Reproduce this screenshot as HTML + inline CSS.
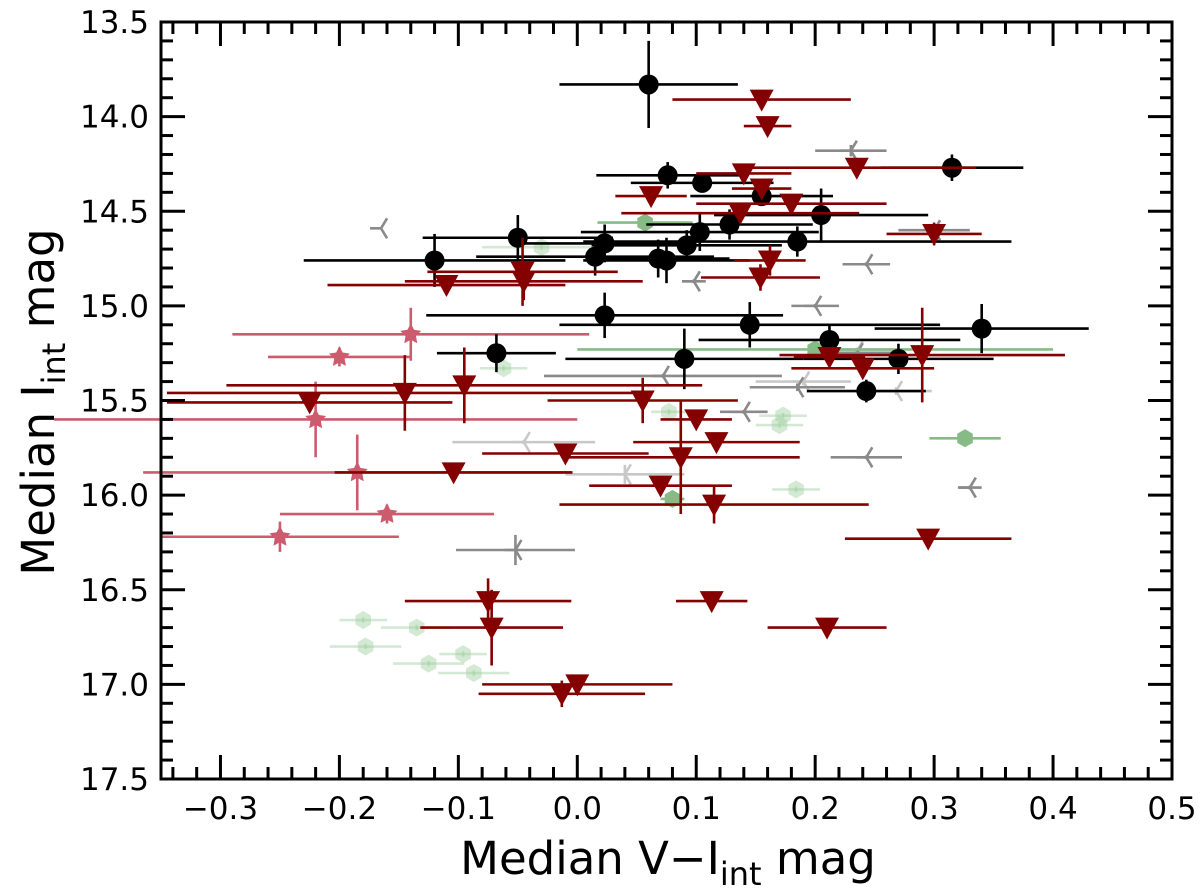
<!DOCTYPE html>
<html><head><meta charset="utf-8"><style>
html,body{margin:0;padding:0;background:#fff;}
svg{display:block;font-family:"DejaVu Sans","Liberation Sans",sans-serif;}
</style></head><body>
<svg id="chart" width="1200" height="888" viewBox="0 0 1200 888" xmlns="http://www.w3.org/2000/svg">
<g id="plot"></g>
<g id="axes"></g>
<text x="668" y="874" font-size="45" text-anchor="middle">Median V−I<tspan font-size="32" dy="11">int</tspan><tspan dy="-11"> mag</tspan></text>
<text transform="translate(54,402) rotate(-90)" font-size="45" text-anchor="middle">Median I<tspan font-size="32" dy="11">int</tspan><tspan dy="-11"> mag</tspan></text>
</svg>
<script>
// x = V-I colour, y = I mag, ex/ey = errors
const blackX=[0.060,0.076,0.105,0.128,0.155,0.205,0.315,-0.120,-0.050,0.023,0.015,0.068,0.075,0.092,0.103,0.185,0.023,-0.068,0.090,0.145,0.212,0.270,0.340,0.243];
const blackY=[13.83,14.31,14.35,14.57,14.42,14.52,14.27,14.76,14.64,14.67,14.74,14.75,14.76,14.68,14.61,14.66,15.05,15.25,15.28,15.10,15.18,15.28,15.12,15.45];
const blackEX=[0.075,0.06,0.06,0.07,0.06,0.09,0.06,0.11,0.08,0.07,0.10,0.06,0.07,0.08,0.10,0.18,0.15,0.05,0.10,0.16,0.11,0.08,0.09,0.05];
const blackEY=[0.23,0.07,0.03,0.08,0.05,0.14,0.07,0.14,0.12,0.10,0.10,0.10,0.12,0.08,0.10,0.08,0.12,0.10,0.16,0.12,0.08,0.08,0.13,0.06];
const redX=[0.155,0.160,0.140,0.062,0.137,0.155,0.180,0.235,0.300,0.162,0.154,-0.110,-0.045,-0.046,0.290,0.240,0.212,0.055,0.100,0.117,0.087,0.115,0.070,-0.010,-0.225,-0.145,-0.095,-0.104,0.295,-0.075,-0.072,0.113,0.210,-0.013,0.000];
const redY=[13.91,14.05,14.30,14.42,14.51,14.38,14.46,14.27,14.62,14.76,14.85,14.89,14.87,14.82,15.26,15.33,15.27,15.50,15.60,15.72,15.80,16.05,15.95,15.78,15.51,15.46,15.42,15.88,16.23,16.56,16.70,16.56,16.70,17.05,17.00];
const redEX=[0.075,0.02,0.04,0.03,0.10,0.025,0.08,0.10,0.04,0.03,0.05,0.10,0.10,0.08,0.12,0.06,0.03,0.08,0.03,0.07,0.10,0.13,0.06,0.07,0.12,0.20,0.20,0.10,0.07,0.07,0.06,0.03,0.05,0.07,0.08];
const redEY=[0.02,0.02,0.02,0.02,0.03,0.03,0.04,0.03,0.06,0.08,0.07,0.03,0.10,0.18,0.25,0.02,0.02,0.12,0.02,0.05,0.30,0.10,0.05,0.03,0.05,0.20,0.20,0.02,0.03,0.12,0.20,0.02,0.02,0.07,0.02];
const pinkX=[-0.200,-0.140,-0.220,-0.185,-0.160,-0.250];
const pinkY=[15.27,15.15,15.60,15.88,16.10,16.22];
const pinkEX=[0.06,0.15,0.22,0.18,0.09,0.10];
const pinkEY=[0.05,0.14,0.20,0.20,0.05,0.08];
const greyX=[-0.165,0.230,0.098,0.243,0.300,0.140,0.243,0.330,-0.052,0.072,0.185,0.200,0.235];
const greyY=[14.59,14.18,14.87,14.78,14.60,15.56,15.80,15.96,16.29,15.37,15.43,15.00,15.25];
const greyEX=[0.0,0.03,0.01,0.02,0.03,0.02,0.03,0.01,0.05,0.10,0.04,0.02,0.03];
const greyEY=[0.0,0.03,0.01,0.01,0.03,0.01,0.01,0.01,0.08,0.01,0.02,0.01,0.01];
const lgreyX=[-0.045,0.040,0.268,0.190,0.235];
const lgreyY=[15.72,15.89,15.45,15.40,15.24];
const lgreyEX=[0.06,0.05,0.03,0.04,0.03];
const lgreyEY=[0.01,0.05,0.02,0.02,0.02];
const greenX=[0.057,0.200,0.326,0.080];
const greenY=[14.56,15.23,15.70,16.02];
const greenEX=[0.04,0.20,0.03,0.01];
const lgreenX=[-0.030,-0.062,0.077,0.173,0.170,0.184,-0.180,-0.135,-0.178,-0.125,-0.096,-0.087];
const lgreenY=[14.69,15.33,15.56,15.58,15.63,15.97,16.66,16.70,16.80,16.89,16.84,16.94];
const lgreenEX=[0.05,0.02,0.015,0.02,0.02,0.02,0.02,0.03,0.03,0.03,0.02,0.03];
const xTicks=[-0.3,-0.2,-0.1,0.0,0.1,0.2,0.3,0.4,0.5];
const yTicks=[13.5,14.0,14.5,15.0,15.5,16.0,16.5,17.0,17.5];

const L=161,R=1172,T=22,B=779;
const XMIN=-0.35,XMAX=0.5,YMIN=13.5,YMAX=17.5;
function sx(v){return L+(v-XMIN)/(XMAX-XMIN)*(R-L);}
function sy(v){return T+(v-YMIN)/(YMAX-YMIN)*(B-T);}
const NS='http://www.w3.org/2000/svg';
const plot=document.getElementById('plot'), axes=document.getElementById('axes');
function mk(tag,attrs,parent){const e=document.createElementNS(NS,tag);for(const k in attrs)e.setAttribute(k,attrs[k]);parent.appendChild(e);return e;}

function errbar(g,x,y,ex,ey,col,op){
  if(ex>0){const l=mk('line',{x1:sx(x-ex),x2:sx(x+ex),y1:sy(y),y2:sy(y),stroke:col,'stroke-width':2.6,opacity:op},g);
  
  }
  if(ey>0){const l=mk('line',{x1:sx(x),x2:sx(x),y1:sy(y-ey),y2:sy(y+ey),stroke:col,'stroke-width':2.6,opacity:op},g);
  
  }
}
function series(name,X,Y,EX,EY,col,op,marker){
  const g=mk('g',{},plot);
  
  
  for(let i=0;i<X.length;i++){
    errbar(g,X[i],Y[i],EX[i],EY?EY[i]:0.015,col,op);
    const cx=sx(X[i]),cy=sy(Y[i]);let m;
    if(marker==='circle'){m=mk('circle',{cx:cx,cy:cy,r:10,fill:col},g);}
    else if(marker==='tri'){m=mk('polygon',{points:`${cx-12},${cy-10} ${cx+12},${cy-10} ${cx},${cy+12}`,fill:col},g);}
    else if(marker==='star'){let p=[];for(let k=0;k<10;k++){const a=-Math.PI/2+k*Math.PI/5,r=k%2?5.5:11;p.push((cx+r*Math.cos(a)).toFixed(1)+','+(cy+r*Math.sin(a)).toFixed(1));}m=mk('polygon',{points:p.join(' '),fill:col,opacity:op},g);}
    else if(marker==='hex'){let p=[];for(let k=0;k<6;k++){const a=Math.PI/6+k*Math.PI/3;p.push((cx+9*Math.cos(a)).toFixed(1)+','+(cy+9*Math.sin(a)).toFixed(1));}m=mk('polygon',{points:p.join(' '),fill:col,opacity:op},g);}
    else {const d=`M${cx},${cy} L${cx-11},${cy} M${cx},${cy} L${cx+6},${cy-10} M${cx},${cy} L${cx+6},${cy+10}`;m=mk('path',{d:d,stroke:col,'stroke-width':2.6,fill:'none',opacity:op},g);}
    
    
  }
}
series('light-green',lgreenX,lgreenY,lgreenEX,null,'#9fcf9f',0.45,'hex');
series('light-grey',lgreyX,lgreyY,lgreyEX,lgreyEY,'#c8c8c8',1,'tri-left');
series('grey',greyX,greyY,greyEX,greyEY,'#8a8a8a',1,'tri-left');
series('green',greenX,greenY,greenEX,null,'#86bb86',1,'hex');
series('pink',pinkX,pinkY,pinkEX,pinkEY,'#cc5b6e',1,'star');
series('black',blackX,blackY,blackEX,blackEY,'#000000',1,'circle');
series('dark-red',redX,redY,redEX,redEY,'#850000',1,'tri');

const fr=mk('rect',{x:L,y:T,width:R-L,height:B-T,fill:'none',stroke:'#000','stroke-width':3},axes);


for(let k=-17;k<=25;k++){const v=k*0.02;if(v<XMIN-1e-9||v>XMAX+1e-9)continue;const x=sx(v);const major=Math.abs(v*10-Math.round(v*10))<1e-6;const len=major?24:12;
  mk('line',{x1:x,x2:x,y1:B,y2:B-len,stroke:'#000','stroke-width':3},axes);
  mk('line',{x1:x,x2:x,y1:T,y2:T+len,stroke:'#000','stroke-width':3},axes);}
for(let k=135;k<=175;k++){const v=k/10;const y=sy(v);const major=k%5===0;const len=major?24:12;
  mk('line',{x1:L,x2:L+len,y1:y,y2:y,stroke:'#000','stroke-width':3},axes);
  mk('line',{x1:R,x2:R-len,y1:y,y2:y,stroke:'#000','stroke-width':3},axes);}
xTicks.forEach(v=>{const t=mk('text',{x:sx(v),y:B+40,'font-size':31,'text-anchor':'middle'},axes);t.textContent=(v<0?'−':'')+Math.abs(v).toFixed(1);
  
  });
yTicks.forEach(v=>{const t=mk('text',{x:L-12,y:sy(v)+11,'font-size':31,'text-anchor':'end'},axes);t.textContent=v.toFixed(1);
  
  });
</script>
</body></html>
